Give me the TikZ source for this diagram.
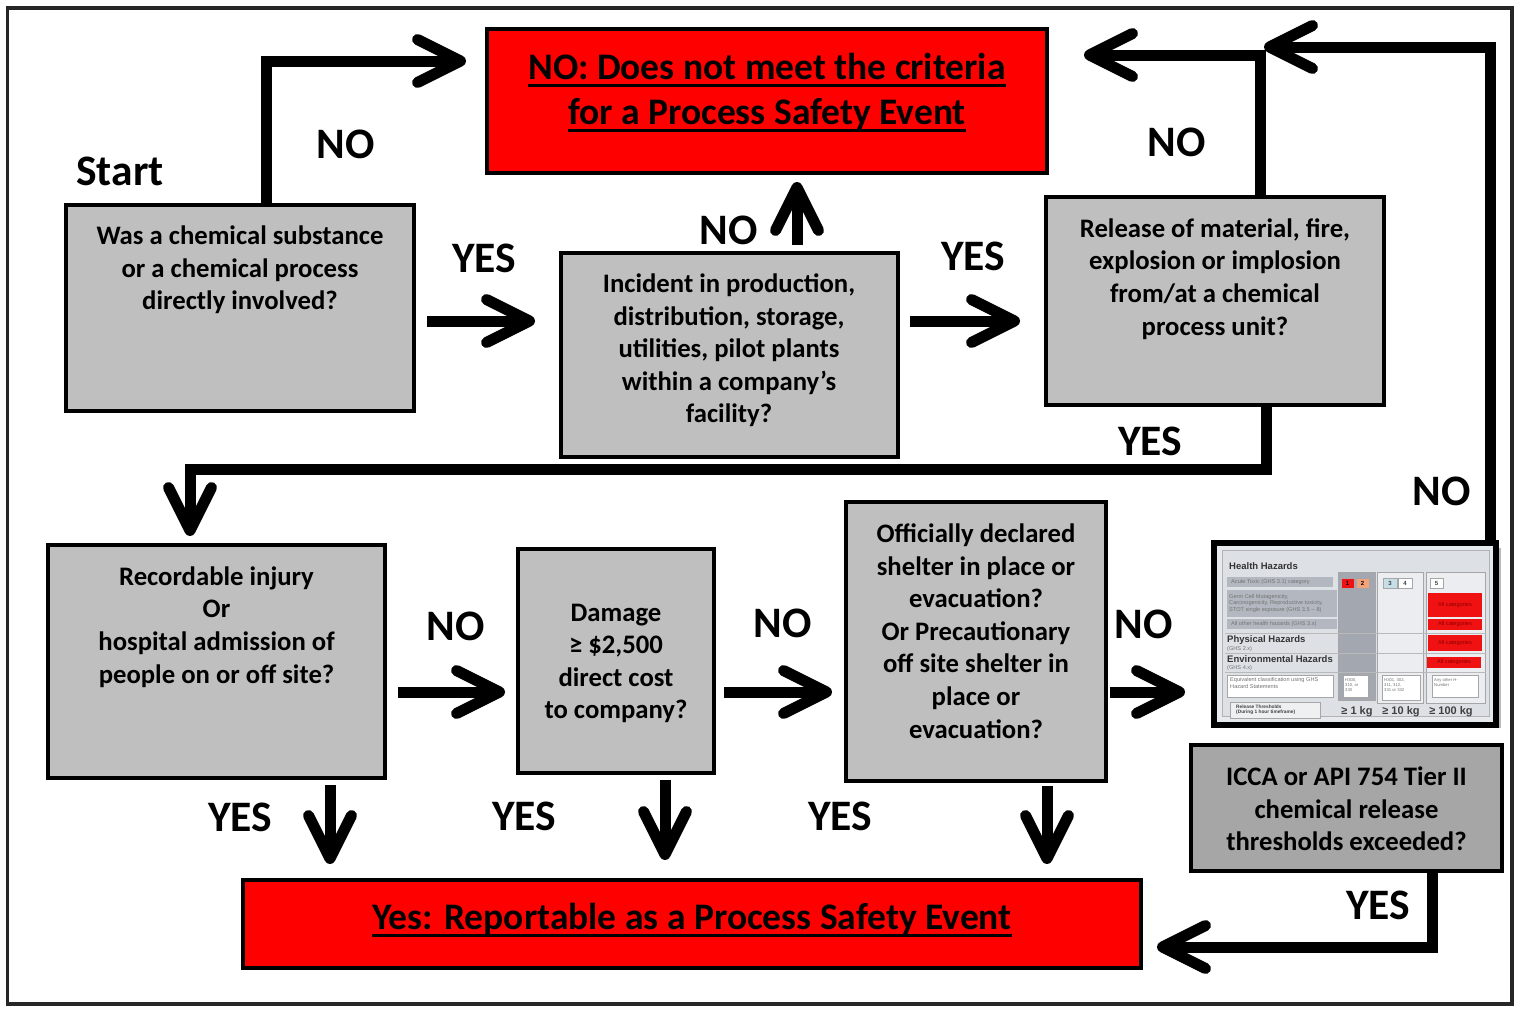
\documentclass[tikz,border=0pt]{standalone}
\usepackage{fontspec}
\setmainfont{Carlito}
\newfontfamily\tabfont{Liberation Sans}
\newcommand\myul[1]{\setbox0\hbox{#1}\rlap{\vrule height -5pt depth 8.2pt width \wd0}\box0}
\usetikzlibrary{arrows.meta,calc}
\definecolor{gbox}{HTML}{BFBFBF}
\definecolor{gdark}{HTML}{A6A6A6}
\definecolor{rbox}{HTML}{FF0000}
\definecolor{panel}{HTML}{DDE1E6}
\definecolor{rowbar}{HTML}{B3B8C0}
\definecolor{colband}{HTML}{A3A8B0}
\definecolor{tred}{HTML}{F01212}
\definecolor{torange}{HTML}{F4A27A}
\definecolor{tblue}{HTML}{C6DEE8}
\tikzset{
 qbox/.style={draw=black, line width=4pt, fill=gbox, inner sep=0pt},
 qtext/.style={align=center, font=\fontsize{26.7}{32.6}\selectfont\bfseries, inner sep=0pt},
 lab/.style={font=\fontsize{43.5}{48}\selectfont\bfseries, inner sep=0pt},
 arr/.style={line width=11pt, -{Straight Barb[length=43pt,width=43pt,round]}},
 endbox/.style={draw=black, line width=4pt, fill=rbox, inner sep=0pt},
 endtext/.style={align=center, font=\fontsize{37.5}{45}\selectfont\bfseries, inner sep=0pt},
 tiny/.style={font=\tabfont\fontsize{5.6}{6.6}\selectfont, text=black!55, inner sep=0pt, align=left},
 cell/.style={draw=gray!70, line width=0.5pt},
 hhead/.style={font=\tabfont\bfseries\fontsize{9.5}{10}\selectfont, text=black!80, inner sep=0pt, anchor=west},
 kg/.style={font=\tabfont\bfseries\fontsize{11}{12}\selectfont, text=black!75, inner sep=0pt},
 catred/.style={font=\tabfont\fontsize{5.6}{6}\selectfont, text=black!45!red, inner sep=0pt}
}
\begin{document}
\begin{tikzpicture}[x=1pt,y=-1pt]
\useasboundingbox (0,0) rectangle (1520,1009);
\fill[white] (0,0) rectangle (1520,1009);
\draw[black!85, line width=3.5pt] (7.5,8) rectangle (1512,1004);

% boxes
\node[endbox, minimum width=560pt, minimum height=144pt] (nobox) at (767,101) {};
\node[endtext] (notext) at (767,92.5) {\myul{NO: Does not meet the criteria}\\\myul{for a Process Safety Event}};
\node[qbox, minimum width=348pt, minimum height=206pt] (q1) at (240,308) {};
\node[qtext] (q1t) at (240,270) {Was a chemical substance\\or a chemical process\\directly involved?};
\node[qbox, minimum width=337pt, minimum height=204pt] (q2) at (729.5,355) {};
\node[qtext] (q2t) at (729,350.5) {Incident in production,\\distribution, storage,\\utilities, pilot plants\\within a company’s\\facility?};
\node[qbox, minimum width=338pt, minimum height=208pt] (q3) at (1215,301) {};
\node[qtext] (q3t) at (1215,279) {Release of material, fire,\\explosion or implosion\\from/at a chemical\\process unit?};
\node[qbox, minimum width=337pt, minimum height=233pt] (q4) at (216.5,661.5) {};
\node[qtext] (q4t) at (216.5,627) {Recordable injury\\Or\\hospital admission of\\people on or off site?};
\node[qbox, minimum width=196pt, minimum height=224pt] (q5) at (616,661) {};
\node[qtext] (q5t) at (616,663.5) {Damage\\≥ \$2,500\\direct cost\\to company?};
\node[qbox, minimum width=260pt, minimum height=279pt] (q6) at (976,641.5) {};
\node[qtext] (q6t) at (976,631) {Officially declared\\shelter in place or\\evacuation?\\Or Precautionary\\off site shelter in\\place or\\evacuation?};
\node[qbox, fill=gdark, minimum width=311pt, minimum height=126pt] (q7) at (1346.5,808) {};
\node[qtext] (q7t) at (1346.5,809) {ICCA or API 754 Tier II\\chemical release\\thresholds exceeded?};
\node[endbox, minimum width=898pt, minimum height=88pt] (yesbox) at (692,924) {};
\node[endtext] (yestext) at (692,920) {\myul{Yes: Reportable as a Process Safety Event}};

% image of threshold table
\fill[gray!55] (1218,548) rectangle (1501,728);
\node[draw=black, line width=6pt, fill=panel!70!white, minimum width=282pt, minimum height=182pt, inner sep=0pt] (img) at (1355,634) {};
\draw[gray!60, line width=0.6pt, fill=panel] (1222,550) rectangle (1489,716);
\draw[cell, fill=colband] (1338,572) rectangle (1375,700);
\draw[cell, fill=panel!60!white] (1377,572) rectangle (1423,703);
\draw[cell, fill=panel!60!white] (1426,572) rectangle (1485,703);
\node[hhead] (hh) at (1229,566) {Health Hazards};
\fill[rowbar] (1227,577) rectangle (1333,587);
\node[tiny, anchor=west] (r1) at (1231,582) {Acute Toxic (GHS 3.1) category};
\fill[rowbar] (1227,590) rectangle (1337,617);
\node[tiny, anchor=west] (r2) at (1229,603.5) {Germ Cell Mutagenicity,\\Carcinogenicity, Reproductive toxicity,\\STOT single exposure (GHS 3.5 -- 8)};
\fill[rowbar] (1227,619) rectangle (1337,629);
\node[tiny, anchor=west] (r3) at (1231,624) {All other health hazards (GHS 3.x)};
\draw[gray!55, line width=0.5pt] (1225,633) -- (1486,633) (1225,653) -- (1486,653) (1225,672) -- (1486,672);
\node[hhead] (ph) at (1227,640) {Physical Hazards};
\node[tiny, anchor=west] (ph2) at (1227,649) {(GHS 2.x)};
\node[hhead] (eh) at (1227,659.5) {Environmental Hazards};
\node[tiny, anchor=west] (eh2) at (1227,668.5) {(GHS 4.x)};
% category cells
\draw[cell, fill=tred] (1341,578) rectangle (1354,588);
\node[font=\tabfont\bfseries\fontsize{6}{6}\selectfont, inner sep=0pt] (c1) at (1347.5,583) {1};
\draw[cell, fill=torange] (1356,578) rectangle (1369,588);
\node[font=\tabfont\bfseries\fontsize{6}{6}\selectfont, inner sep=0pt] (c2) at (1362.5,583) {2};
\draw[cell, fill=tblue] (1383,578) rectangle (1397,588);
\node[font=\tabfont\bfseries\fontsize{6}{6}\selectfont, inner sep=0pt, text=black!75] (c3) at (1390,583) {3};
\draw[cell, fill=white] (1398,578) rectangle (1412,588);
\node[font=\tabfont\bfseries\fontsize{6}{6}\selectfont, inner sep=0pt, text=black!75] (c4) at (1405,583) {4};
\draw[cell, fill=white] (1430,578) rectangle (1443,588);
\node[font=\tabfont\bfseries\fontsize{6}{6}\selectfont, inner sep=0pt, text=black!75] (c5) at (1436.5,583) {5};
\fill[tred] (1428,593) rectangle (1482,617);
\node[catred] (a1) at (1455,605) {All categories};
\fill[tred] (1428,619) rectangle (1482,630);
\node[catred] (a2) at (1455,624.5) {All categories};
\fill[tred] (1428,635) rectangle (1482,651);
\node[catred] (a3) at (1455,643) {All categories};
\fill[tred] (1427,657) rectangle (1481,668);
\node[catred] (a4) at (1454,662.5) {All categories};
% hazard statements row
\draw[cell, fill=white] (1227,675) rectangle (1333,697);
\node[tiny, anchor=west] (hs) at (1230,683) {Equivalent classification using GHS\\Hazard Statements};
\draw[cell, fill=white] (1343,675) rectangle (1368,697);
\node[tiny, font=\tabfont\fontsize{4.2}{5}\selectfont, anchor=north west] (h1) at (1345,678) {H300,\\310, or\\330};
\draw[cell, fill=white] (1382,675) rectangle (1420,700);
\node[tiny, font=\tabfont\fontsize{4.2}{5}\selectfont, anchor=north west] (h2) at (1384,678) {H301, 302,\\311, 312,\\331 or 332};
\draw[cell, fill=white] (1432,675) rectangle (1478,697);
\node[tiny, font=\tabfont\fontsize{4.2}{5}\selectfont, anchor=north west] (h3) at (1434,678) {Any other H-\\Number};
\draw[cell, fill=panel!50!white] (1230,702) rectangle (1320,718);
\node[tiny, text=black!75, font=\tabfont\bfseries\fontsize{4.8}{5.4}\selectfont, anchor=west] (rt) at (1236,710) {Release Thresholds\\(During 1 hour timeframe)};
\node[kg] (k1) at (1357,712) {≥ 1 kg};
\node[kg] (k2) at (1401,712) {≥ 10 kg};
\node[kg] (k3) at (1451,712) {≥ 100 kg};

% start label
\node[lab] (start) at (120,171) {Start};

% connectors
\draw[arr] ($(q1.north)+(26,0)$) |- ($(nobox.west)+(-19,-40)$);
\draw[arr] ($(q1.east)+(11,13)$) -- ($(q2.west)+(-24,-34)$);
\draw[arr] ($(q2.north)+(67.5,-6)$) -- ($(nobox.south)+(30,7)$);
\draw[arr] ($(q2.east)+(10,-34)$) -- ($(q3.west)+(-24,20)$);
\draw[arr] ($(q3.north)+(45,0)$) |- ($(nobox.east)+(35,-46)$);
\draw[arr] ($(q3.south)+(51,0)$) -- ++(0,62) -| ($(q4.north)+(-26.5,-7)$);
\draw[arr] ($(q4.east)+(11,30.5)$) -- ($(q5.west)+(-11,31)$);
\draw[arr] ($(q4.south)+(113.5,5)$) -- ($(yesbox.north)+(-362,-14)$);
\draw[arr] ($(q5.east)+(8,31)$) -- ($(q6.west)+(-12,50.5)$);
\draw[arr] ($(q5.south)+(49,5)$) -- ($(yesbox.north)+(-27,-18)$);
\draw[arr] ($(q6.east)+(2,50.5)$) -- ($(img.west)+(-26,58)$);
\draw[arr] ($(q6.south)+(71,3)$) -- ($(yesbox.north)+(355,-14)$);
\draw[arr] ($(img.north)+(135,2)$) |- ($(nobox.east)+(215,-54)$);
\draw[arr] ($(q7.south)+(85.5,0)$) |- ($(yesbox.east)+(14,23)$);

% labels
\node[lab] (l1) at (346,144) {NO};
\node[lab] (l2) at (484,258) {YES};
\node[lab] (l3) at (729,230) {NO};
\node[lab] (l4) at (973,256) {YES};
\node[lab] (l5) at (1177,142) {NO};
\node[lab] (l6) at (1150,441) {YES};
\node[lab] (l7) at (456,626) {NO};
\node[lab] (l8) at (240,817) {YES};
\node[lab] (l9) at (783,623) {NO};
\node[lab] (l10) at (524,816) {YES};
\node[lab] (l11) at (1144,624) {NO};
\node[lab] (l12) at (840,816) {YES};
\node[lab] (l13) at (1442,491) {NO};
\node[lab] (l14) at (1378,905) {YES};
\end{tikzpicture}
\end{document}
